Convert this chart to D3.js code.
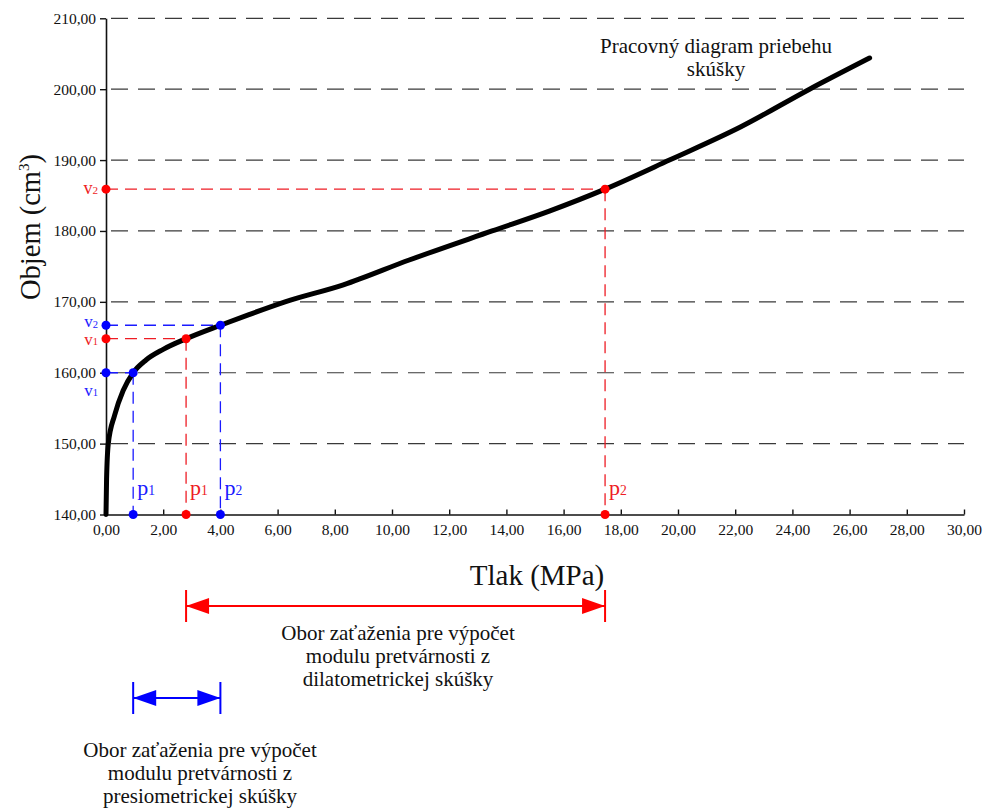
<!DOCTYPE html>
<html><head><meta charset="utf-8">
<script src="https://cdn.jsdelivr.net/npm/d3@7"></script>
<style>body{margin:0;background:#fff}svg{display:block}text{font-family:"Liberation Serif","DejaVu Serif",serif}</style>
</head><body>
<svg id="c" width="987" height="810"></svg>
<script>
const pressure = [0, 0.02, 0.08, 0.3, 0.6, 0.95, 1.4, 2.0, 2.8, 4.0, 5.0, 6.26, 8.3, 10.6, 13.5, 15.5, 17.45, 19.7, 22.2, 24.6, 26.7];
const volume   = [140, 145, 150, 154, 157.5, 160, 161.8, 163.3, 164.8, 166.7, 168.2, 170, 172.4, 175.9, 180, 182.8, 185.9, 190, 194.7, 200, 204.4];
const xTicks = [0,2,4,6,8,10,12,14,16,18,20,22,24,26,28,30];
const yTicks = [140,150,160,170,180,190,200,210];
const markP = [0.95, 2.8, 4.0, 17.45];
const markV = [160, 164.8, 166.7, 185.9];
const markColor = ["blue","red","blue","red"];
const markPLabel = ["1","1","2","2"];
const markVLabel = ["1","1","2","2"];
const rangeRed = [2.8, 17.45];
const rangeBlue = [0.95, 4.0];

const svg = d3.select("#c");
const x = d3.scaleLinear().domain([0,30]).range([106,964]);
const y = d3.scaleLinear().domain([140,210]).range([514.5,18.3]);
const colMap = {red:"#ee1c24", blue:"#1a1aff"};
const dotMap = {red:"#ff0000", blue:"#0000ff"};

// grid
svg.append("g").selectAll("line").data(yTicks.filter(d=>d>140)).join("line")
  .attr("x1",x(0)).attr("x2",x(30)).attr("y1",d=>y(d)).attr("y2",d=>y(d))
  .attr("stroke","#3a3a3a").attr("stroke-width",1.2).attr("stroke-dasharray","17,10")
  .attr("stroke-dashoffset",-5);

// axes
const fmt = d => d.toFixed(2).replace(".",",");
const gx = svg.append("g").attr("transform",`translate(0,${y(140)})`)
  .call(d3.axisBottom(x).tickValues(xTicks).tickFormat(fmt).tickSizeInner(-5).tickSizeOuter(0));
gx.selectAll("text").attr("y",9).attr("dy","0.71em").attr("font-size",15.5).attr("fill","#111");
const gy = svg.append("g").attr("transform",`translate(${x(0)},0)`)
  .call(d3.axisLeft(y).tickValues(yTicks).tickFormat(fmt).tickSizeInner(6).tickSizeOuter(0));
gy.selectAll("text").attr("x",-10).attr("font-size",15.5).attr("fill","#111");
svg.selectAll(".domain").attr("stroke","#111").attr("stroke-width",1.6);
svg.selectAll(".tick line").attr("stroke","#111").attr("stroke-width",1.4);
gx.attr("font-family",null); gy.attr("font-family",null);

// guide lines
const idx = d3.range(markP.length);
const guides = svg.append("g");
idx.forEach(i=>{
  const c = colMap[markColor[i]];
  guides.append("line").attr("x1",x(0)).attr("x2",x(markP[i])).attr("y1",y(markV[i])).attr("y2",y(markV[i]))
    .attr("stroke",c).attr("stroke-width",1.3).attr("stroke-dasharray","12,7");
  guides.append("line").attr("x1",x(markP[i])).attr("x2",x(markP[i])).attr("y1",y(markV[i])).attr("y2",y(140))
    .attr("stroke",c).attr("stroke-width",1.3).attr("stroke-dasharray","12,7");
});

// curve
svg.append("path").datum(d3.zip(pressure,volume))
  .attr("d",d3.line().x(d=>x(d[0])).y(d=>y(d[1])).curve(d3.curveMonotoneX))
  .attr("fill","none").attr("stroke","#000").attr("stroke-width",5).attr("stroke-linecap","round").attr("stroke-linejoin","round");

// dots
idx.forEach(i=>{
  const c = dotMap[markColor[i]];
  [[markP[i],markV[i]],[0,markV[i]],[markP[i],140]].forEach(pt=>{
    svg.append("circle").attr("cx",x(pt[0])).attr("cy",y(pt[1])).attr("r",4.5).attr("fill",c);
  });
});

function subLabel(g, xx, yy, base, sub, color, size, anchor){
  const t = g.append("text").attr("x",xx).attr("y",yy).attr("fill",color).attr("font-size",size).attr("text-anchor",anchor||"start");
  t.append("tspan").text(base);
  t.append("tspan").attr("font-size",size*0.62).attr("dy",size*0.02).text(sub);
  return t;
}
const lab = svg.append("g");
idx.forEach(i=>{
  const c = colMap[markColor[i]];
  subLabel(lab, x(markP[i])+4, y(140)-20, "p", markPLabel[i], c, 22, "start");
});
subLabel(lab, x(0)-8, y(markV[3])+5, "v", markVLabel[3], colMap.red, 18, "end");
subLabel(lab, x(0)-8, y(markV[2])+2, "v", markVLabel[2], colMap.blue, 17, "end");
subLabel(lab, x(0)-8, y(markV[1])+6, "v", markVLabel[1], colMap.red, 17, "end");
subLabel(lab, x(0)-8, y(markV[0])+23, "v", markVLabel[0], colMap.blue, 17, "end");

// axis titles
svg.append("text").attr("x",537).attr("y",585).attr("text-anchor","middle").attr("font-size",29).attr("fill","#111").text("Tlak (MPa)");
const yt = svg.append("text").attr("transform","translate(40,227) rotate(-90)").attr("text-anchor","middle").attr("font-size",28.5).attr("fill","#111");
yt.append("tspan").text("Objem (cm");
yt.append("tspan").attr("font-size",15).attr("dy",-11).text("3");
yt.append("tspan").attr("dy",11).text(")");

// annotation
const ann = svg.append("text").attr("text-anchor","middle").attr("font-size",21).attr("fill","#111");
ann.append("tspan").attr("x",716).attr("y",53).text("Pracovný diagram priebehu");
ann.append("tspan").attr("x",716).attr("y",76).text("skúšky");

function rangeArrow(r, yy, color){
  const g = svg.append("g");
  const x1 = x(r[0]), x2 = x(r[1]);
  g.append("line").attr("x1",x1).attr("x2",x2).attr("y1",yy).attr("y2",yy).attr("stroke",color).attr("stroke-width",2);
  [x1,x2].forEach(xx=>g.append("line").attr("x1",xx).attr("x2",xx).attr("y1",yy-16).attr("y2",yy+16).attr("stroke",color).attr("stroke-width",2));
  g.append("path").attr("d",`M${x1},${yy}L${x1+23},${yy-8}L${x1+23},${yy+8}Z`).attr("fill",color);
  g.append("path").attr("d",`M${x2},${yy}L${x2-23},${yy-8}L${x2-23},${yy+8}Z`).attr("fill",color);
}
rangeArrow(rangeRed, 606, "#ff0000");
rangeArrow(rangeBlue, 698, "#0000ff");

function block(cx, y0, lines){
  const t = svg.append("text").attr("text-anchor","middle").attr("font-size",21).attr("fill","#111");
  lines.forEach((l,i)=>t.append("tspan").attr("x",cx).attr("y",y0+i*23).text(l));
}
block(398, 640, ["Obor zaťaženia pre výpočet","modulu pretvárnosti z","dilatometrickej skúšky"]);
block(200, 757, ["Obor zaťaženia pre výpočet","modulu pretvárnosti z","presiometrickej skúšky"]);
</script>
</body></html>
